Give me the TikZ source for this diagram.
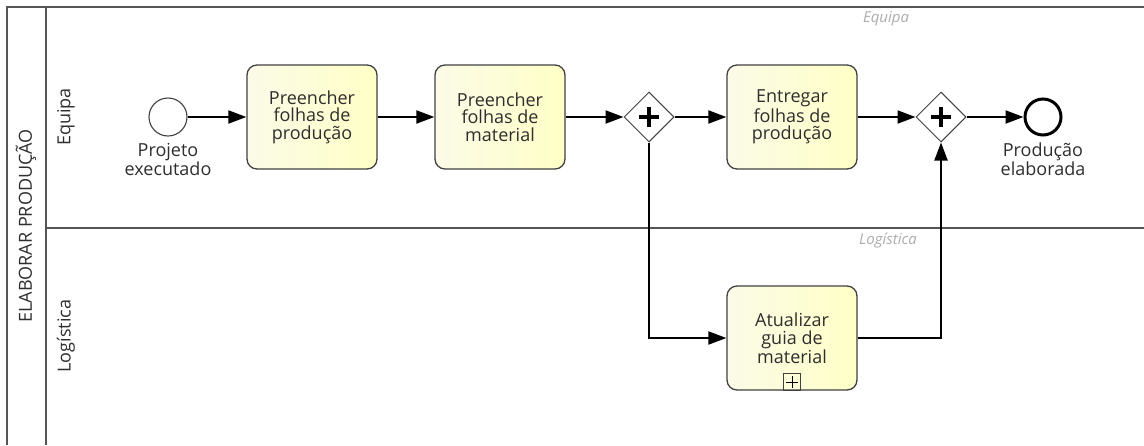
\documentclass[tikz,border=0pt]{standalone}
\usepackage{fontspec}
\setmainfont{Open Sans}
\usetikzlibrary{arrows.meta,shapes.geometric}
\definecolor{poolline}{HTML}{555555}
\definecolor{taskline}{HTML}{404040}
\definecolor{tasklight}{HTML}{FBFBE8}
\definecolor{taskdark}{HTML}{FFFFC6}
\definecolor{lanegray}{HTML}{ABABAB}
\tikzset{
  txt/.style={font=\fontsize{18}{17.5}\selectfont, text=black!82, align=center},
  task/.style={txt, draw=taskline, line width=1.3pt, rounded corners=10pt,
    left color=tasklight, right color=taskdark,
    minimum width=130pt, minimum height=104pt, inner sep=0pt},
  gate/.style={diamond, draw=taskline, line width=1pt, fill=white,
    minimum width=50pt, minimum height=50pt, inner sep=0pt},
  startev/.style={circle, draw=taskline, line width=1.1pt, fill=white,
    minimum size=38pt, inner sep=0pt},
  endev/.style={circle, draw=black, line width=3pt, fill=white,
    minimum size=36pt, inner sep=0pt},
  flow/.style={line width=2pt, -{Triangle[length=18pt,width=13pt]}},
  plusbar/.style={line width=3.2pt, black},
  pool/.style={draw=poolline, line width=1.6pt},
  lanelabel/.style={txt, rotate=90},
  lanetag/.style={font=\fontsize{15}{17}\selectfont\itshape, text=lanegray},
}
\begin{document}
\begin{tikzpicture}[x=1pt, y=-1pt]
  \useasboundingbox (0,0) rectangle (1144,445);
  % pool frame and lanes
  \draw[pool] (7,445) -- (7,7) -- (1144,7);
  \draw[pool] (46,7) -- (46,445);
  \draw[pool] (46,228) -- (1144,228);
  \node[lanelabel] (poolname) at (26,226) {ELABORAR PRODUÇÃO};
  \node[lanelabel] (laneA) at (66,117) {Equipa};
  \node[lanelabel] (laneB) at (66,336) {Logística};
  \node[lanetag] (tagA) at (886,19) {Equipa};
  \node[lanetag] (tagB) at (888,241) {Logística};

  % flow elements
  \node[startev] (start) at (168,117) {};
  \node[txt, anchor=center] (startlbl) at (168,159.5) {Projeto\\executado};
  \node[task] (t1) at (312,117) {Preencher\\folhas de\\produção};
  \node[task] (t2) at (500,117) {Preencher\\folhas de\\material};
  \node[gate] (g1) at (649,117) {};
  \node[task] (t3) at (792,117) {Entregar\\folhas de\\produção};
  \node[gate] (g2) at (941,117) {};
  \node[endev] (end) at (1043,117) {};
  \node[txt, anchor=center] (endlbl) at (1043,159.5) {Produção\\elaborada};
  \node[task] (t4) at (792,338) {Atualizar\\guia de\\material};
  \node[draw=taskline, line width=1pt, minimum size=17pt, inner sep=0pt,
        anchor=south] (sub) at (792,391) {};
  \draw[line width=0.9pt] ([yshift=6pt]sub.center) -- ([yshift=-6pt]sub.center)
    ([xshift=-6pt]sub.center) -- ([xshift=6pt]sub.center);

  % parallel gateway markers
  \foreach \g in {g1,g2}{
    \draw[plusbar] ([yshift=10pt]\g.center) -- ([yshift=-10pt]\g.center)
      ([xshift=-10pt]\g.center) -- ([xshift=10pt]\g.center);
  }

  % sequence flows
  \draw[flow] (start) -- (t1);
  \draw[flow] (t1) -- (t2);
  \draw[flow] (t2) -- (g1);
  \draw[flow] (g1) -- (t3);
  \draw[flow] (t3) -- (g2);
  \draw[flow] (g2) -- (end);
  \draw[flow] (g1.south) |- (t4.west);
  \draw[flow] (t4.east) -| (g2.south);
\end{tikzpicture}
\end{document}
